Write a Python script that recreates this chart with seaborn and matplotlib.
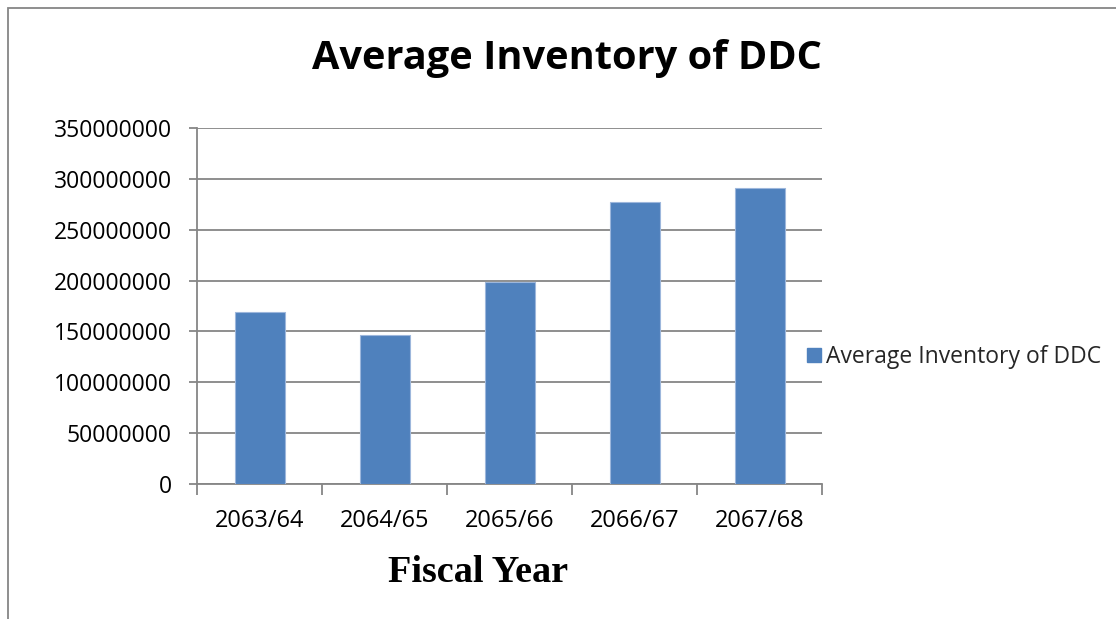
import matplotlib
matplotlib.use("Agg")
import matplotlib.pyplot as plt
import seaborn as sns
import pandas as pd
from matplotlib.patches import Rectangle, Patch

years = ["2063/64", "2064/65", "2065/66", "2066/67", "2067/68"]
inventory = [169000000, 146500000, 198200000, 277000000, 291000000]
series_name = "Average Inventory of DDC"
yticks = [0, 50000000, 100000000, 150000000, 200000000, 250000000, 300000000, 350000000]

sns.set_theme(style="white")
plt.rcParams['font.family'] = ['Open Sans', 'DejaVu Sans']

fig = plt.figure(figsize=(11.16, 6.19), dpi=100)
ax = fig.add_axes([197/1116, 1-484/619, (822-197)/1116, (484-128)/619])

df = pd.DataFrame({"year": years, "value": inventory})
sns.barplot(data=df, x="year", y="value", color="#4F81BD", saturation=1, width=0.4,
            ax=ax, edgecolor="#9DB7DC", linewidth=0.8, zorder=3)

ax.set_ylim(0, 350000000)
ax.set_xlim(-0.5, 4.5)
ax.set_yticks(yticks)
ax.set_yticklabels([str(v) for v in yticks], fontsize=16.5, color="#000000")
ax.yaxis.grid(True, color="#868686", linewidth=1.3, zorder=0)
ax.set_axisbelow(True)
for s in ["top", "right"]:
    ax.spines[s].set_visible(False)
for s in ["left", "bottom"]:
    ax.spines[s].set_color("#868686")
    ax.spines[s].set_linewidth(1.3)

# x ticks at category boundaries, labels centered
ax.set_xticks([i - 0.5 for i in range(6)], minor=False)
ax.set_xticklabels([""] * 6)
ax.set_xticks(range(5), minor=True)
ax.set_xticklabels(years, minor=True, fontsize=17, color="#000000")
ax.tick_params(axis="x", which="major", direction="out", length=8, width=1.3, color="#868686", bottom=True)
ax.tick_params(axis="x", which="minor", length=0, pad=18)
ax.tick_params(axis="y", direction="out", length=6, width=1.3, color="#868686", left=True, pad=12)
ax.set_xlabel("")
ax.set_ylabel("")

fig.text(567/1116, 1-58/619, "Average Inventory of DDC", ha="center", va="center",
         fontsize=28.6, fontweight="bold", color="#000000")
fig.text(478/1116, 1-572/619, "Fiscal Year", ha="center", va="center",
         fontsize=27.5, fontweight="bold", family=["Liberation Serif"], color="#000000")

handles = [Patch(facecolor="#4F81BD", edgecolor="#4F81BD", label=series_name)]
fig.legend(handles=handles, loc="center left", bbox_to_anchor=(807/1116, 1-357/619),
           frameon=False, fontsize=16.5, handlelength=0.6, handleheight=0.6,
           handletextpad=0.25, borderaxespad=0, borderpad=0)

fig.patches.append(Rectangle((8/1116, -0.1), 1.2, 1 - 8/619 + 0.1, transform=fig.transFigure,
                             fill=False, edgecolor="#868686", linewidth=1.3))

fig.savefig("out.png", dpi=100)
